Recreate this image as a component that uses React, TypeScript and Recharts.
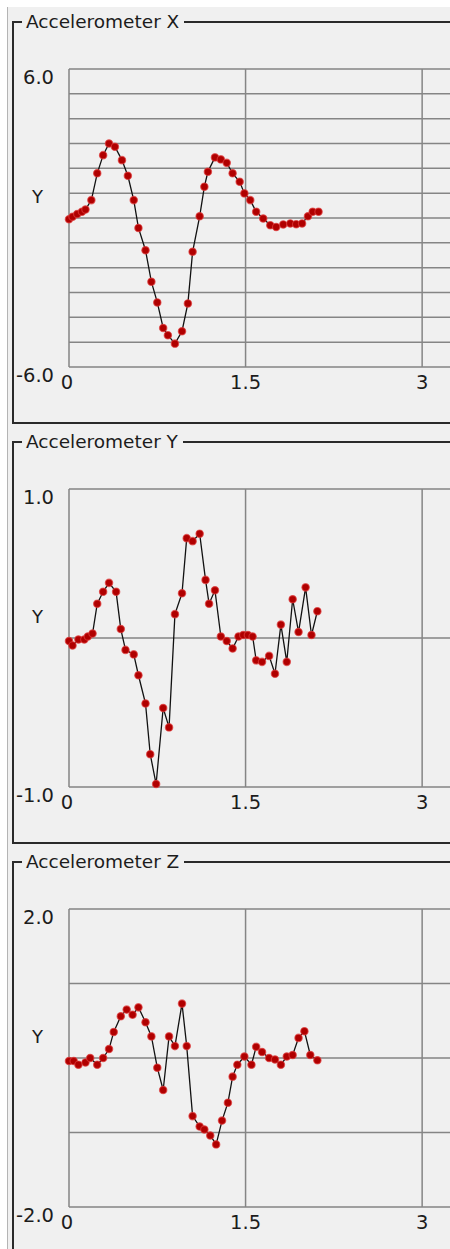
import { LineChart, Line, XAxis, YAxis, CartesianGrid } from 'recharts'

// accelerometer log, three axes, time in seconds
const TIME_X = [0.0, 0.03, 0.07, 0.11, 0.14, 0.19, 0.24, 0.29, 0.34, 0.39, 0.45, 0.5, 0.55, 0.59, 0.65, 0.7, 0.75, 0.8, 0.84, 0.9, 0.96, 1.01, 1.05, 1.11, 1.15, 1.18, 1.24, 1.29, 1.34, 1.39, 1.45, 1.49, 1.54, 1.59, 1.65, 1.71, 1.76, 1.82, 1.88, 1.93, 1.98, 2.03, 2.07, 2.12]
const ACCEL_X = [-0.05, 0.05, 0.16, 0.25, 0.34, 0.72, 1.8, 2.53, 3.0, 2.87, 2.33, 1.7, 0.72, -0.4, -1.3, -2.57, -3.4, -4.43, -4.72, -5.06, -4.56, -3.44, -1.36, 0.07, 1.26, 1.86, 2.44, 2.36, 2.22, 1.8, 1.46, 0.99, 0.72, 0.25, -0.02, -0.29, -0.36, -0.26, -0.22, -0.25, -0.22, 0.07, 0.25, 0.25]

const TIME_Y = [0.0, 0.03, 0.08, 0.13, 0.16, 0.2, 0.24, 0.29, 0.34, 0.4, 0.44, 0.48, 0.55, 0.59, 0.65, 0.69, 0.74, 0.8, 0.85, 0.9, 0.96, 1.0, 1.05, 1.11, 1.16, 1.19, 1.24, 1.29, 1.34, 1.39, 1.44, 1.48, 1.52, 1.56, 1.59, 1.64, 1.7, 1.75, 1.8, 1.85, 1.9, 1.95, 2.01, 2.06, 2.11]
const ACCEL_Y = [-0.02, -0.05, -0.01, -0.01, 0.01, 0.03, 0.23, 0.31, 0.37, 0.31, 0.06, -0.08, -0.11, -0.25, -0.44, -0.78, -0.98, -0.47, -0.6, 0.16, 0.3, 0.67, 0.65, 0.7, 0.39, 0.23, 0.32, 0.01, -0.02, -0.07, 0.01, 0.02, 0.02, 0.01, -0.15, -0.16, -0.12, -0.24, 0.09, -0.16, 0.26, 0.04, 0.34, 0.02, 0.18]

const TIME_Z = [0.0, 0.04, 0.08, 0.14, 0.18, 0.24, 0.29, 0.34, 0.38, 0.44, 0.49, 0.54, 0.59, 0.65, 0.7, 0.75, 0.8, 0.85, 0.9, 0.96, 1.0, 1.05, 1.11, 1.15, 1.2, 1.25, 1.3, 1.35, 1.39, 1.43, 1.49, 1.55, 1.59, 1.64, 1.7, 1.75, 1.8, 1.85, 1.9, 1.95, 2.0, 2.05, 2.11]
const ACCEL_Z = [-0.04, -0.04, -0.09, -0.06, 0.0, -0.09, 0.0, 0.12, 0.35, 0.56, 0.65, 0.58, 0.68, 0.48, 0.29, -0.13, -0.43, 0.29, 0.16, 0.73, 0.16, -0.78, -0.92, -0.96, -1.04, -1.16, -0.84, -0.6, -0.25, -0.09, 0.02, -0.09, 0.15, 0.08, 0.0, -0.02, -0.09, 0.02, 0.04, 0.27, 0.36, 0.04, -0.03]

const X_TICKS = [0, 1.5, 3]
const Y_TICKS_X = [-6, -5, -4, -3, -2, -1, 0, 1, 2, 3, 4, 5, 6]
const Y_TICKS_Y = [-1, 0, 1]
const Y_TICKS_Z = [-2, -1, 0, 1, 2]

const FONT = "'DejaVu Sans', Verdana, sans-serif"
const TEXT = '#1c1c1c'
const GRID = '#858585'
const BORDER = '#2a2a2a'

const CHART_W = 490
const PLOT_H = 298
const TOP_PAD = 10

function toRows(t: number[], v: number[]) {
  return t.map((time, i) => ({ time, value: v[i] }))
}

interface PanelProps {
  title: string
  top: number
  time: number[]
  values: number[]
  yTicks: number[]
}

function Panel({ title, top, time, values, yTicks }: PanelProps) {
  const data = toRows(time, values)
  const yMin = yTicks[0]
  const yMax = yTicks[yTicks.length - 1]

  const yTick = (props: any) => {
    const v = props.payload.value
    if (v !== yMin && v !== yMax) return <g />
    return (
      <text x={props.x - 15} y={props.y + 8} textAnchor="end" dominantBaseline="central"
        fontFamily={FONT} fontSize={19.5} fill={TEXT}>
        {v.toFixed(1)}
      </text>
    )
  }

  const xTick = (props: any) => {
    const v = props.payload.value
    return (
      <text x={props.x - (v === 0 ? 2 : 0)} y={props.y + 15} textAnchor="middle" dominantBaseline="central"
        fontFamily={FONT} fontSize={19.5} fill={TEXT}>
        {String(v)}
      </text>
    )
  }

  const yLabel = (props: any) => {
    const vb = props.viewBox
    return (
      <text x={vb.x + 37.5} y={vb.y + vb.height / 2 - 22} textAnchor="middle" dominantBaseline="central"
        fontFamily={FONT} fontSize={18} fill={TEXT}>
        Y
      </text>
    )
  }

  return (
    <>
      {/* group box frame */}
      <div style={{
        position: 'absolute', left: 12, top: top + 21, width: 520, height: 399,
        borderLeft: `2px solid ${BORDER}`, borderTop: `2px solid ${BORDER}`, borderBottom: `2px solid ${BORDER}`,
      }} />
      <div style={{
        position: 'absolute', left: 22, top: top + 22, transform: 'translateY(-50%)',
        padding: '0 5px 0 4px', background: '#f0f0f0', fontFamily: FONT, fontSize: 18.5,
        color: TEXT, lineHeight: '22px', whiteSpace: 'nowrap',
      }}>
        {title}
      </div>
      <div style={{ position: 'absolute', left: 0, top: top + 69 - TOP_PAD }}>
        <LineChart width={CHART_W} height={TOP_PAD + PLOT_H + 32} data={data}
          margin={{ top: TOP_PAD, right: 9, left: 0, bottom: 0 }}>
          <CartesianGrid stroke={GRID} strokeWidth={1.5} />
          <XAxis dataKey="time" type="number" domain={[0, 3.5]} ticks={X_TICKS} interval={0}
            height={32} axisLine={false} tickLine={false} tickSize={0} tickMargin={0} tick={xTick} />
          <YAxis type="number" domain={[yMin, yMax]} ticks={yTicks} interval={0}
            width={69} axisLine={false} tickLine={false} tickSize={0} tickMargin={0}
            tick={yTick} label={yLabel} />
          <Line type="linear" dataKey="value" stroke="#111" strokeWidth={1.3}
            dot={{ r: 3.7, fill: '#b00000', stroke: '#e03c3c', strokeWidth: 1.2, strokeOpacity: 0.7 }}
            activeDot={false} isAnimationActive={false} />
        </LineChart>
      </div>
    </>
  )
}

export default function App() {
  return (
    <div style={{
      position: 'absolute', left: 0, top: 0, width: 450, height: 1249,
      overflow: 'hidden', background: '#ffffff',
    }}>
      <div style={{
        position: 'absolute', left: 7, top: 7, right: 0, bottom: 0,
        background: '#f0f0f0', borderLeft: '1px solid #b4b4b4',
      }} />
      <Panel title="Accelerometer X" top={0} time={TIME_X} values={ACCEL_X} yTicks={Y_TICKS_X} />
      <Panel title="Accelerometer Y" top={420} time={TIME_Y} values={ACCEL_Y} yTicks={Y_TICKS_Y} />
      <Panel title="Accelerometer Z" top={840} time={TIME_Z} values={ACCEL_Z} yTicks={Y_TICKS_Z} />
    </div>
  )
}
